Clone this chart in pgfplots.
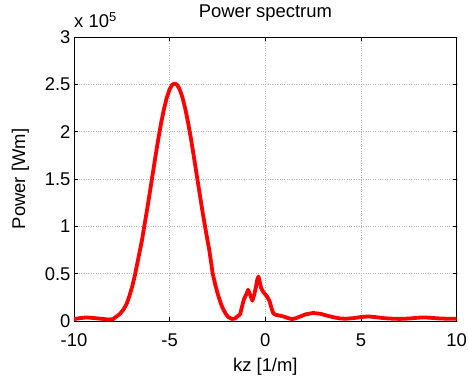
\documentclass[border=0pt]{standalone}
\usepackage{pgfplots}
\pgfplotsset{compat=1.18}
\usepackage{fontspec}
\setmainfont{Liberation Sans}
\begin{document}
\begin{tikzpicture}
\def\fs{\fontsize{18.5}{21}\selectfont}
\begin{axis}[
  scale only axis, width=382.7bp, height=284bp,
  xmin=-10, xmax=10, ymin=0, ymax=300000,
  xtick={-10,-5,0,5,10},
  xticklabels={-10,-5,0,5,10},
  ytick={0,50000,100000,150000,200000,250000,300000},
  yticklabels={0,0.5,1,1.5,2,2.5,3},
  scaled y ticks=false,
  grid=major,
  major grid style={dotted, gray!60, line width=0.5bp},
  tick align=inside, major tick length=4bp,
  every tick/.style={black, line width=0.6bp},
  axis line style={line width=0.8bp, black},
  tick label style={font=\fs},
  xticklabel style={anchor=base, yshift=-25bp, inner sep=0pt},
  title={Power spectrum},
  title style={at={(axis description cs:0.5,1)}, anchor=base, yshift=13.7bp, font=\fs, inner sep=0pt},
  xlabel={kz [1/m]},
  xlabel style={at={(axis description cs:0.5,0)}, anchor=base, yshift=-50.7bp, font=\fs, inner sep=0pt},
  ylabel={Power [Wm]},
  ylabel style={at={(axis description cs:-0.128,0.5)}, anchor=base, font=\fs, inner sep=0pt},
]
\addplot[red, line width=3.8bp, line join=round, line cap=round] table {
x y
-10 2000
-9.7 3000
-9.35 3800
-9.0 3200
-8.6 2400
-8.2 1500
-7.95 2000
-7.8 4500
-7.6 7500
-7.42 12000
-7.25 18000
-7.11 26000
-6.95 37000
-6.8 50000
-6.6 70000
-6.45 85000
-6.33 99700
-6.2 115200
-6.05 134100
-5.9 153500
-5.75 172900
-5.6 191600
-5.45 208800
-5.3 223800
-5.15 236000
-5.0 244900
-4.87 249400
-4.74 251000
-4.61 249400
-4.48 244900
-4.33 236000
-4.18 223800
-4.03 208800
-3.88 191600
-3.73 172900
-3.58 153500
-3.43 134100
-3.28 115200
-3.15 99700
-3.04 87000
-2.93 75000
-2.75 50000
-2.6 37000
-2.45 26000
-2.3 17000
-2.19 12000
-2.05 7000
-1.93 4000
-1.75 2200
-1.6 2500
-1.45 5000
-1.32 7000
-1.22 15000
-1.12 23000
-1.0 28000
-0.9 33000
-0.8 28000
-0.68 21500
-0.58 28000
-0.5 35000
-0.42 44000
-0.36 47000
-0.3 42000
-0.22 35000
-0.12 31000
0.0 28000
0.12 25000
0.22 21000
0.33 13000
0.42 8000
0.55 6500
0.8 5500
1.0 4500
1.2 3000
1.4 2000
1.6 3000
1.85 5000
2.1 7000
2.5 8500
2.9 7500
3.25 5500
3.6 3800
3.9 2700
4.2 2400
4.6 3000
5.0 4200
5.4 4800
5.8 4000
6.2 3000
6.6 2500
7.0 2200
7.5 2600
8.0 3500
8.3 3800
8.7 3300
9.0 2800
9.5 2400
10.0 2400
};
\coordinate (bl) at (axis description cs:0,0);
\coordinate (tr) at (axis description cs:1,1);
\end{axis}
\node[anchor=base west, inner sep=0pt, font=\fs] at ([yshift=9.3bp]bl |- tr) {x 10\textsuperscript{5}};
\pgfresetboundingbox
\path ([shift={(-74bp,-60bp)}]bl) rectangle ([shift={(12.3bp,37bp)}]tr);
\end{tikzpicture}
\end{document}
